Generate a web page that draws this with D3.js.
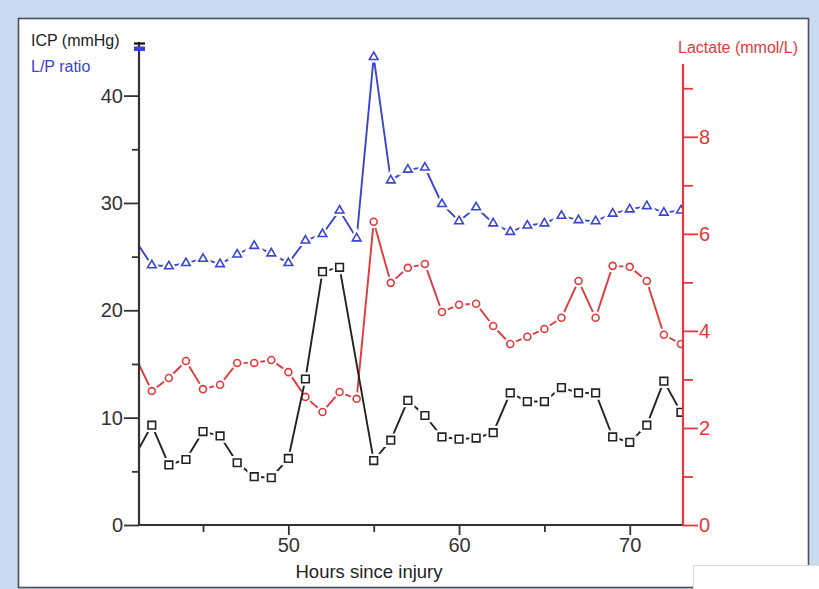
<!DOCTYPE html>
<html>
<head>
<meta charset="utf-8">
<script src="https://cdn.jsdelivr.net/npm/d3@7"></script>
<style>
  html, body { margin: 0; padding: 0; background: #c7daf0; }
  svg { display: block; font-family: Arial, "Liberation Sans", Helvetica, sans-serif; }
</style>
</head>
<body>
<svg id="chart" width="819" height="589"></svg>
<script>
// Hours since injury (hourly samples)
const hours = d3.range(41, 74);
// Intracranial pressure, mmHg (no sample at hour 54)
const icp = [6.4, 9.3, 5.6, 6.1, 8.7, 8.3, 5.8, 4.5, 4.4, 6.2,
             13.6, 23.6, 24.0, null, 6.0, 7.9, 11.6, 10.2, 8.2, 8.0,
             8.1, 8.6, 12.3, 11.5, 11.5, 12.8, 12.3, 12.3, 8.2, 7.7,
             9.3, 13.4, 10.5];
// Lactate/pyruvate ratio (shares the left axis)
const lpRatio = [26.6, 24.2, 24.1, 24.4, 24.8, 24.3, 25.2, 26.0, 25.3, 24.4,
                 26.5, 27.1, 29.3, 26.7, 43.6, 32.1, 33.1, 33.3, 29.9, 28.3,
                 29.6, 28.1, 27.3, 27.9, 28.1, 28.8, 28.4, 28.3, 29.0, 29.4,
                 29.7, 29.1, 29.3];
// Lactate, mmol/L (right axis)
const lactate = [3.49, 2.76, 3.03, 3.38, 2.80, 2.89, 3.34, 3.34, 3.40, 3.15,
                 2.64, 2.33, 2.74, 2.60, 6.25, 4.99, 5.30, 5.38, 4.39, 4.54,
                 4.56, 4.10, 3.73, 3.88, 4.04, 4.27, 5.03, 4.27, 5.34, 5.32,
                 5.03, 3.92, 3.73];

const xMajor = [50, 60, 70];
const xMinor = [45, 55, 65];
const leftMajor = [0, 10, 20, 30, 40];
const leftMinor = [5, 15, 25, 35];
const rightMajor = [0, 2, 4, 6, 8];
const rightMinor = [1, 3, 5, 7, 9];

const BLACK = "#222", BLUE = "#3a44d2", RED = "#e23a3c";

const svg = d3.select("#chart");

// panel
svg.append("rect").attr("x", 18.5).attr("y", 18.5).attr("width", 790).attr("height", 569)
  .attr("fill", "#fff").attr("stroke", "#4a4f57").attr("stroke-width", 1.6);
svg.append("rect").attr("x", 693.5).attr("y", 565.5).attr("width", 130).attr("height", 30)
  .attr("fill", "#fff").attr("stroke", "#dcdcdc").attr("stroke-width", 1);

const x = d3.scaleLinear().domain([41.25, 73.12]).range([139, 683]);
const yL = d3.scaleLinear().domain([0, 44.9]).range([525, 43]);
const yR = d3.scaleLinear().domain([0, 9.5]).range([525, 64]);

svg.append("clipPath").attr("id", "plot-clip")
  .append("rect").attr("x", 139).attr("y", 0).attr("width", 544).attr("height", 525);

const plot = svg.append("g").attr("clip-path", "url(#plot-clip)");

function drawSeries(values, yScale, color, symbolType, size) {
  const pts = hours.map((h, i) => ({ h, v: values[i] })).filter(d => d.v !== null);
  const line = d3.line().x(d => x(d.h)).y(d => yScale(d.v));
  plot.append("path").datum(pts).attr("d", line)
    .attr("fill", "none").attr("stroke", color).attr("stroke-width", 1.9)
    .attr("stroke-linejoin", "round");
  const sym = d3.symbol().type(symbolType).size(size);
  const g = plot.append("g");
  // white halo around each marker
  g.selectAll("path.halo").data(pts).join("path").attr("class", "halo")
    .attr("d", sym).attr("transform", d => `translate(${x(d.h)},${yScale(d.v)})`)
    .attr("fill", "#fff").attr("stroke", "#fff").attr("stroke-width", 6);
  g.selectAll("path.mk").data(pts).join("path").attr("class", "mk")
    .attr("d", sym).attr("transform", d => `translate(${x(d.h)},${yScale(d.v)})`)
    .attr("fill", "#fff").attr("stroke", color).attr("stroke-width", 1.6);
}

drawSeries(lpRatio, yL, BLUE, d3.symbolTriangle, 32);
drawSeries(lactate, yR, RED, d3.symbolCircle, 38);
drawSeries(icp, yL, BLACK, d3.symbolSquare, 58);

function styleAxis(g, color) {
  g.select(".domain").remove();
  g.selectAll("line").attr("stroke", color).attr("stroke-width", 1.8);
  g.selectAll("text").attr("fill", color).attr("font-size", 20)
    .attr("font-family", "Arial, 'Liberation Sans', sans-serif");
}

// left axis
svg.append("g").attr("transform", "translate(139,0)")
  .call(d3.axisLeft(yL).tickValues(leftMajor).tickSize(15).tickPadding(1))
  .call(g => styleAxis(g, "#333"));
svg.append("g").attr("transform", "translate(139,0)")
  .call(d3.axisLeft(yL).tickValues(leftMinor).tickSize(7).tickFormat(""))
  .call(g => styleAxis(g, "#333"));
svg.append("line").attr("x1", 139).attr("x2", 139).attr("y1", 42).attr("y2", 525.8)
  .attr("stroke", "#333").attr("stroke-width", 2.2);
// end caps at the top of the left axis
svg.append("line").attr("x1", 134).attr("x2", 145).attr("y1", 43.5).attr("y2", 43.5)
  .attr("stroke", "#111").attr("stroke-width", 2.2);
svg.append("rect").attr("x", 134).attr("y", 46.5).attr("width", 11).attr("height", 4.5)
  .attr("fill", BLUE);

// bottom axis
svg.append("g").attr("transform", "translate(0,525)")
  .call(d3.axisBottom(x).tickValues(xMajor).tickSize(10).tickPadding(3))
  .call(g => styleAxis(g, "#333"));
svg.append("g").attr("transform", "translate(0,525)")
  .call(d3.axisBottom(x).tickValues(xMinor).tickSize(7).tickFormat(""))
  .call(g => styleAxis(g, "#333"));
svg.append("line").attr("x1", 138).attr("x2", 683).attr("y1", 525).attr("y2", 525)
  .attr("stroke", "#333").attr("stroke-width", 2.2);

// right axis
svg.append("g").attr("transform", "translate(683,0)")
  .call(d3.axisRight(yR).tickValues(rightMajor).tickSize(15).tickPadding(1))
  .call(g => styleAxis(g, RED));
svg.append("g").attr("transform", "translate(683,0)")
  .call(d3.axisRight(yR).tickValues(rightMinor).tickSize(10).tickFormat(""))
  .call(g => styleAxis(g, RED));
svg.append("line").attr("x1", 683).attr("x2", 683).attr("y1", 64).attr("y2", 525.8)
  .attr("stroke", RED).attr("stroke-width", 2.2);

// titles
svg.append("text").attr("x", 31).attr("y", 46).attr("font-size", 16).attr("fill", "#222")
  .text("ICP (mmHg)");
svg.append("text").attr("x", 31).attr("y", 72).attr("font-size", 16).attr("fill", BLUE)
  .text("L/P ratio");
svg.append("text").attr("x", 678).attr("y", 53).attr("font-size", 16).attr("fill", RED)
  .text("Lactate (mmol/L)");
svg.append("text").attr("x", 369).attr("y", 578).attr("text-anchor", "middle")
  .attr("font-size", 18.5).attr("fill", "#222").text("Hours since injury");
</script>
</body>
</html>
